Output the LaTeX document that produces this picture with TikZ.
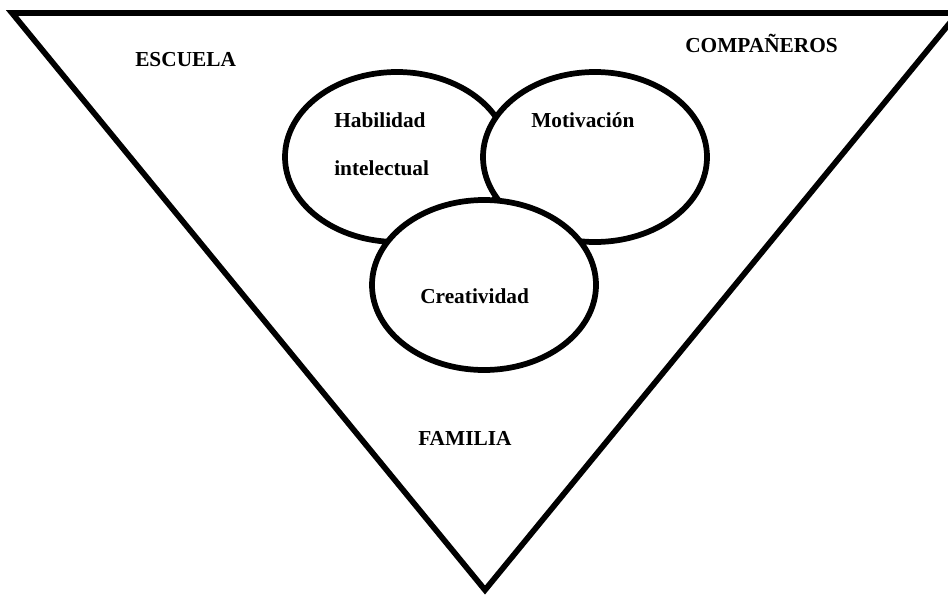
\documentclass[tikz,border=0pt]{standalone}
\usepackage{fontspec}
\setmainfont{Liberation Serif}
\usetikzlibrary{shapes.geometric}

\begin{document}
\begin{tikzpicture}[
        x=0.75pt, y=-0.75pt,
        circ/.style={ellipse, draw, fill=white, line width=4.3pt, minimum width=168pt, minimum height=127.5pt, inner sep=0pt},
        word/.style={font=\fontsize{16}{19}\selectfont\bfseries, inner sep=0pt, anchor=base west}
      ]
      \useasboundingbox (0,0) rectangle (948,600);
      \clip (0,0) rectangle (948,600);

      % Outer triangle
      \draw[line width=4.3pt] (12,13) -- (958,13) -- (485,590) -- cycle;

      % Circles
      \node[circ] (hab) at (397,157) {};
      \node[circ] (mot) at (595,157) {};
      \node[circ] (cre) at (484,285) {};

      % Words inside the circles
      \node[word] (habtext) at (334,127) {Habilidad};
      \node[word] (inttext) at (334,175) {intelectual};
      \node[word] (mottext) at (531,127) {Motivación};
      \node[word] (cretext) at (420,303) {Creatividad};

      % Words around
      \node[word] (escuela) at (135,66) {ESCUELA};
      \node[word] (companeros) at (685,52) {COMPAÑEROS};
      \node[word] (familia) at (418,445) {FAMILIA};

      \end{tikzpicture}
\end{document}
